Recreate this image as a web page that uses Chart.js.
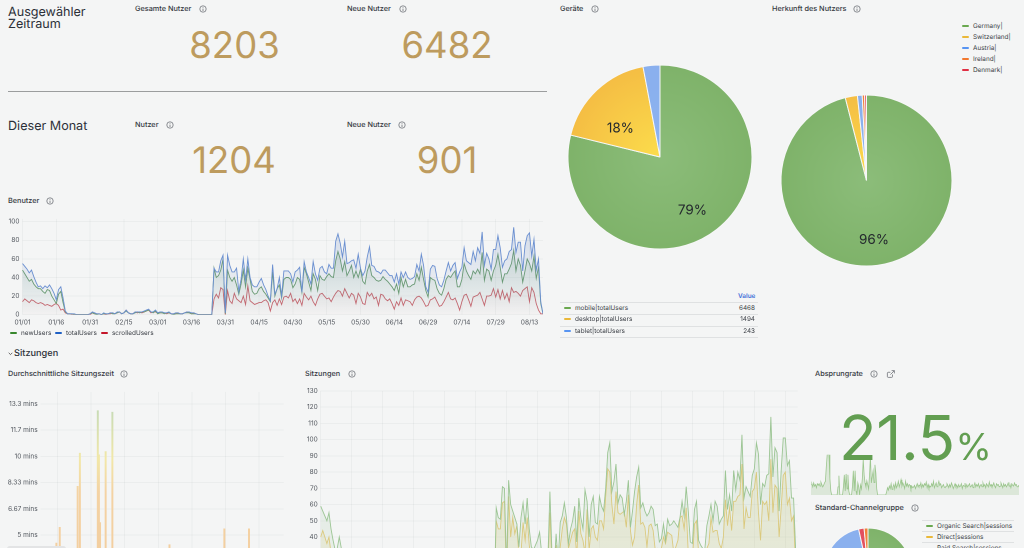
<!DOCTYPE html>
<html><head><meta charset="utf-8"><title>Dashboard</title>
<script src="https://cdn.jsdelivr.net/npm/chart.js@4"></script>
<style>
html,body{margin:0;padding:0;width:1024px;height:548px;overflow:hidden;background:#f4f5f5;font-family:Inter,"Noto Sans",sans-serif;color:#2c3038;text-rendering:geometricPrecision}
canvas{position:absolute}
.t{position:absolute;white-space:nowrap;line-height:1}
.title{font-size:7.3px;font-weight:500;color:#33373e;transform:translateY(-50%)}
.big{font-size:36.5px;color:#bd9b5e;transform:translate(-50%,-50%)}
.head{font-size:12.6px;color:#2c3038}
.sw{position:absolute;width:7px;height:2px;border-radius:1px}
.lab{font-size:6.4px;color:#3a3e45;transform:translateY(-50%)}
.hr{position:absolute;height:1px;background:#dfe1e2}
svg{position:absolute;overflow:visible}
</style></head><body>
<canvas id="usersC"></canvas>
<canvas id="timeC"></canvas>
<canvas id="sessC"></canvas>
<canvas id="bounceC"></canvas>
<canvas id="devC"></canvas>
<canvas id="geoC"></canvas>
<canvas id="chanC"></canvas>
<script>
const totalUsers=[55,52,49,45,48,41,35,30,31,28,
31,29,32,28,23,16,27,30,18,4,
1,1,1,1,0,0,0,0,0,0,
1,3,2,1,1,0,2,1,1,2,
2,1,3,3,1,2,5,2,1,1,
3,3,3,3,4,5,6,3,3,5,
2,3,3,2,2,3,1,1,2,2,
1,1,2,3,3,2,2,1,0,0,
0,0,0,0,0,50,46,46,58,64,
2,64,53,46,46,50,25,38,60,37,
60,40,32,30,30,35,39,32,27,20,
15,54,22,28,40,20,47,47,47,44,
35,46,48,51,24,57,46,40,33,57,
44,37,50,52,46,44,54,50,50,79,
87,77,62,79,55,56,58,59,50,65,
50,42,47,62,73,53,52,47,46,44,
48,48,45,42,42,35,44,33,46,40,
46,40,38,39,41,54,47,65,53,30,
24,49,53,52,39,32,30,37,47,56,
47,53,56,39,46,51,72,58,56,54,
68,58,72,66,89,53,66,60,49,70,
70,85,72,51,58,60,68,70,94,67,
78,78,47,74,85,88,63,81,48,60,
14,1];
const newUsers=[48,44,40,36,38,33,30,28,28,25,
23,27,26,20,16,12,22,25,13,3,
1,1,1,0,0,0,0,0,0,0,
1,2,1,0,1,0,1,1,1,2,
1,1,2,3,1,2,4,2,1,1,
2,3,2,3,3,4,5,3,2,4,
1,2,2,1,2,2,1,0,1,1,
1,1,2,2,2,1,1,1,0,0,
0,0,0,0,0,50,40,42,48,60,
1,48,40,36,40,32,22,33,48,30,
50,38,25,22,23,28,30,25,22,18,
14,46,20,28,32,18,38,40,40,38,
29,33,40,38,24,51,44,35,26,44,
38,26,42,38,37,41,44,41,40,58,
68,60,47,57,42,47,53,40,47,40,
49,36,33,47,54,42,40,37,36,37,
41,38,36,33,30,26,33,23,40,30,
38,30,30,32,33,44,37,51,38,26,
19,40,38,37,28,23,21,28,38,42,
40,44,47,30,30,38,55,47,42,38,
47,44,49,44,67,37,49,47,37,47,
53,65,51,35,44,44,49,55,69,47,
60,53,35,47,60,55,47,63,39,51,
12,1];
const scrolledUsers=[14,17,15,13,16,15,13,12,13,12,
10,11,10,9,11,12,10,5,6,2,
1,1,0,0,0,0,0,0,0,0,
0,2,1,1,1,0,1,0,1,1,
2,1,2,3,1,2,5,2,1,1,
3,2,3,2,3,4,5,2,3,3,
2,2,2,2,1,2,1,1,1,2,
1,1,2,3,2,1,2,1,0,0,
0,0,0,0,0,17,22,18,29,27,
0,26,15,12,23,17,15,13,20,11,
31,15,13,11,12,13,13,15,16,13,
4,13,16,10,17,11,19,20,18,23,
14,17,12,17,10,23,19,16,20,14,
10,17,22,23,20,17,18,14,19,23,
26,25,20,28,23,18,23,21,12,23,
19,12,11,24,20,23,17,19,10,22,
21,17,15,17,12,6,14,10,18,10,
16,15,14,10,16,19,20,18,14,9,
10,16,17,19,14,9,10,14,19,24,
17,16,18,12,5,14,21,22,16,9,
19,20,21,24,17,10,20,20,21,28,
19,27,17,26,17,23,14,29,24,25,
23,20,26,28,30,14,29,24,12,5,
1,1];
const sessionsOrganic=[59,56,53,50,55,45,38,32,33,40,
33,30,27,25,22,15,28,31,18,5,
2,1,1,1,0,0,0,0,0,0,
2,4,2,1,1,1,2,1,2,3,
3,1,4,4,2,3,6,3,1,2,
4,4,4,3,5,6,7,4,3,6,
3,4,4,2,3,4,2,1,2,3,
1,2,3,3,4,3,2,1,0,0,
0,0,0,0,0,58,52,51,71,70,
20,75,60,56,52,48,34,52,61,48,
64,45,34,32,35,38,43,30,20,15,
25,68,30,20,42,25,49,53,61,52,
36,45,50,59,37,64,52,45,69,62,
40,60,65,49,48,65,59,56,70,92,
98,68,74,85,61,66,64,54,62,75,
46,56,68,77,83,58,61,56,53,55,
59,57,47,48,37,39,48,38,51,47,
48,50,48,46,52,62,53,71,56,37,
36,57,62,38,35,33,32,47,53,60,
50,62,59,48,51,53,81,57,66,56,
81,69,80,75,103,64,71,68,65,78,
82,98,91,60,73,71,78,79,114,77,
95,92,56,81,101,101,84,87,64,64,
32,2];
const sessionsDirect=[40,44,40,36,40,30,25,22,22,26,
22,20,18,18,15,10,20,22,12,3,
1,1,0,1,0,0,0,0,0,0,
1,2,1,1,0,0,1,1,1,2,
2,1,2,3,1,2,4,2,1,1,
2,2,3,2,3,4,4,2,2,4,
2,2,3,1,2,2,1,1,1,2,
1,1,2,2,2,1,1,1,0,0,
0,0,0,0,0,50,45,45,61,62,
10,65,40,52,42,47,28,30,49,38,
52,35,25,22,24,28,30,30,15,12,
20,55,22,18,35,18,34,45,52,48,
33,38,43,45,28,56,42,38,30,57,
32,45,47,40,38,50,50,45,65,82,
80,60,48,68,55,54,55,56,46,66,
44,35,40,60,72,48,49,46,34,47,
48,44,32,33,26,33,40,36,43,42,
41,30,34,38,52,53,45,58,30,28,
25,48,50,30,22,20,18,33,36,52,
43,44,44,36,33,40,63,47,58,44,
62,62,65,66,85,45,58,52,52,68,
70,80,55,38,62,60,62,50,88,55,
72,70,40,58,78,80,60,64,50,53,
20,1];
const sessionMinutes=[1.8,2.1,1.6,2.4,1.9,2.2,1.5,2.0,2.6,1.7,
2.3,1.4,2.0,2.8,4.5,1.9,2.2,5.5,1.6,0.8,
0,0,1.2,0,0,0,0,0,0,2.4,
0,1.5,3.0,8.1,0,10.2,0,2.1,0,1.3,
0,3.2,0,0,2.7,1.1,3.4,0,2.0,0,
1.6,12.9,10.1,5.8,0,2.2,0,1.7,10.3,0,
3.1,0,1.4,0,12.8,0,2.3,0,1.0,0,
0,1.9,0,2.5,0,1.2,0,0,0,0,
0,0,0,0,0,1.8,2.0,1.5,2.2,1.9,
0.6,2.4,1.7,2.0,1.6,2.1,1.4,1.9,2.3,1.8,
2.0,1.5,1.7,2.2,1.6,1.9,2.1,1.3,1.8,1.5,
2.4,1.9,1.6,2.0,1.7,4.4,1.8,2.3,1.5,2.0,
1.6,1.9,2.2,1.7,1.4,2.1,1.8,2.5,1.6,1.9,
2.0,1.5,1.8,2.3,1.7,1.6,2.0,1.9,2.2,2.4,
1.8,2.1,1.6,2.3,1.7,1.9,2.0,1.5,2.6,1.8,
1.7,2.2,1.9,1.6,2.1,1.8,2.0,1.4,1.9,2.2,
1.6,2.0,1.8,1.7,5.4,2.1,1.9,1.5,2.3,1.6,
2.0,1.8,1.7,2.2,1.9,1.5,2.1,1.6,2.0,1.8,
2.3,1.7,1.9,1.6,2.2,1.8,5.4,1.9,1.5,2.0,
1.7,2.1,1.8,1.6,2.3,1.9,1.7,2.0,1.8,1.5,
2.2,1.9,1.7,2.0,1.6,2.1,1.8,1.9,2.2,1.6,
2.0,1.7,1.9,2.1,1.8,1.6,2.0,1.5];
const bounceRate=[25,28,20,30,22,26,18,28,24,28,
22,32,26,20,24,30,34,70,100,100,
100,40,10,0,0,0,0,0,0,0,
20,48,0,0,0,0,20,50,10,52,
15,50,10,0,0,0,20,60,10,60,
10,0,30,20,0,25,15,40,88,50,
30,20,35,25,15,50,95,30,45,60,
30,75,55,15,0,0,0,0,0,0,
0,0,0,0,8,18,12,22,16,28,
14,20,26,15,30,18,24,34,20,28,
38,22,30,24,16,34,22,28,20,26,
24,14,22,18,20,24,16,22,28,20,
25,22,30,18,26,20,28,24,32,18,
26,16,22,20,28,22,34,18,24,30,
20,26,34,24,28,18,22,26,20,18,
22,28,24,18,26,20,30,24,16,22,
28,20,24,18,26,20,22,28,16,24,
22,30,18,26,20,24,28,20,22,26,
18,24,30,20,26,22,28,18,24,26,
20,30,22,26,18,28,24,20,32,22,
26,20,24,30,22,18,28,24,26,20,
22,30,24,18,28,22,26,20,24,30,
22,26,18,28,24,22,30,24,26,20,
20,25];
const userTicks=[0,20,40,60,80,100];
const sessionTicks=[0,10,20,30,40,50,60,70,80,90,100,110,120,130];
const timeTickValues=[0,5/3,10/3,5,20/3,25/3,10,35/3,40/3];
const timeTickLabels=['0','1.67 mins','3.33 mins','5 mins','6.67 mins','8.33 mins','10 mins','11.7 mins','13.3 mins'];
const deviceLabels=['mobile|totalUsers','desktop|totalUsers','tablet|totalUsers'];
const deviceValues=[6468,1494,243];
const geoLabels=['Germany|','Switzerland|','Austria|','Ireland|','Denmark|'];
const geoValues=[96,2.3,0.9,0.45,0.35];
const channelLabels=['Organic Search|sessions','Direct|sessions','Paid Search|sessions'];
const channelValues=[61,20,15,2,1.4];
const legendSeries=['newUsers','totalUsers','scrolledUsers'];
const titles=[['Gesamte Nutzer',135,9,203],['Neue Nutzer',347,9,403],['Geräte',560,9,595],['Herkunft des Nutzers',772,9,857],
['Nutzer',135,124.5,170],['Neue Nutzer',347,124.5,402],['Benutzer',8,201,50],['Durchschnittliche Sitzungszeit',8,373.5,124],
['Sitzungen',305,373.5,352],['Absprungrate',815,373.5,874],['Standard-Channelgruppe',815,507.5,915]];
const bigStats=[['8203',234.5,45],['6482',447,45],['1204',234,160],['901',447,160]];

const INK='#50555c',GRID='rgba(36,41,46,0.04)',FONT='Inter';
const dayLabels=[];
for(let i=0;i<232;i++){const d=new Date(Date.UTC(2024,0,1+i));
 dayLabels.push(String(d.getUTCMonth()+1).padStart(2,'0')+'/'+String(d.getUTCDate()).padStart(2,'0'));}

function addText(cls,txt,x,y,extra){const e=document.createElement('div');e.className='t '+cls;e.textContent=txt;
 e.style.left=x+'px';e.style.top=y+'px';if(extra)Object.assign(e.style,extra);document.body.appendChild(e);return e;}
function icon(x,y){const s=document.createElementNS('http://www.w3.org/2000/svg','svg');
 s.setAttribute('width','8');s.setAttribute('height','8');s.style.left=(x-4)+'px';s.style.top=(y-4)+'px';
 s.innerHTML='<circle cx="4" cy="4" r="3.2" fill="none" stroke="#5d6269" stroke-width=".7"/><path d="M4 3.6V6M4 2.2v.7" stroke="#5d6269" stroke-width=".7"/>';
 document.body.appendChild(s);}
function swatch(x,y,c,w){const e=document.createElement('div');e.className='sw';e.style.cssText+=`left:${x}px;top:${y-1}px;background:${c};`;if(w)e.style.width=w+'px';document.body.appendChild(e);}
function hr(x,y,w,c,h){const e=document.createElement('div');e.className='hr';e.style.cssText+=`left:${x}px;top:${y}px;width:${w}px;`+(c?`background:${c};`:'')+(h?`height:${h}px;`:'');document.body.appendChild(e);}

titles.forEach(t=>{addText('title',t[0],t[1],t[2]);icon(t[3],t[2]);});
bigStats.forEach(b=>addText('big',b[0],b[1],b[2]));
addText('head','Ausgewähler',8,7);addText('head','Zeitraum',8,18.8);addText('head','Dieser Monat',8,121.3);
hr(8,90.5,539,'#9b9d9e',1);
addText('title','Sitzungen',14,353.5,{fontSize:'9.2px',color:'#2c3038'});
const chev=document.createElementNS('http://www.w3.org/2000/svg','svg');chev.setAttribute('width','5');chev.setAttribute('height','4');
chev.style.left='8px';chev.style.top='352px';chev.innerHTML='<path d="M.7 .8 2.5 2.6 4.3 .8" fill="none" stroke="#444" stroke-width=".8"/>';document.body.appendChild(chev);
[[10,21,'#37872d'],[55,66,'#1f60c4'],[101,112,'#c4162a']].forEach((p,i)=>{swatch(p[0],332.5,p[2]);addText('lab',legendSeries[i],p[1],332.5);});
addText('lab','Value',738,296,{color:'#3f6fd8',fontWeight:'600',width:'17px',textAlign:'right'});
[302,314,325.5,337].forEach(y=>hr(560,y,198));
const devCols=['#6aa84f','#eab839','#5794f2'];
deviceLabels.forEach((l,i)=>{const y=307.8+i*11.6;swatch(564,y,devCols[i]);addText('lab',l,575,y);
 addText('lab',String(deviceValues[i]),725,y,{width:'30px',textAlign:'right'});});
const geoCols=['#6aa84f','#eab839','#5794f2','#f2782e','#e02f44'];
geoLabels.forEach((l,i)=>{const y=26+i*11;swatch(962,y,geoCols[i]);addText('lab',l,973,y);});
[520,531,542].forEach(y=>hr(922,y,92));
channelLabels.forEach((l,i)=>{const y=525.7+i*11.2;if(i<2)swatch(926,y,geoCols[i]);addText('lab',l,937,y);});
const edge=document.createElement('div');edge.style.cssText='position:absolute;left:7px;top:546px;width:59px;height:6px;background:#e3e4e5;border-radius:3px';document.body.appendChild(edge);
const ext=document.createElementNS('http://www.w3.org/2000/svg','svg');ext.setAttribute('width','8');ext.setAttribute('height','8');ext.style.left='886.5px';ext.style.top='369.5px';
ext.innerHTML='<path d="M5.5 4.5V6.6a.8.8 0 0 1-.8.8H1.2a.8.8 0 0 1-.8-.8V3.1a.8.8 0 0 1 .8-.8H3.4M4.6 .6H7.4V3.4M7.2 .8 3.4 4.6" fill="none" stroke="#5d6269" stroke-width=".7"/>';document.body.appendChild(ext);

function size(c,l,t,w,h){c.width=w;c.height=h;c.style.left=l+'px';c.style.top=t+'px';c.style.width=w+'px';c.style.height=h+'px';}
function vGrad(ctx,area,stops){if(!area)return stops[0][1];const g=ctx.createLinearGradient(0,area.top,0,area.bottom);stops.forEach(s=>g.addColorStop(s[0],s[1]));return g;}
function axes(cfg){return {
 x:{type:'category',offset:false,border:{display:false},grid:{color:GRID,drawTicks:false,lineWidth:1},
    ticks:{autoSkip:false,maxRotation:0,minRotation:0,padding:4,color:INK,font:{family:FONT,size:6.6},callback:v=>dayLabels[v]},
    afterBuildTicks(s){s.ticks=s.ticks.filter(t=>t.value%cfg.every===0);},afterFit(s){s.height=cfg.xh;}},
 y:{min:0,max:cfg.max,border:{display:false},grid:{color:GRID,drawTicks:false},
    afterBuildTicks(s){s.ticks=cfg.tickValues.map(value=>({value}));},
    ticks:Object.assign({autoSkip:false,padding:3,color:INK,font:{family:FONT,size:6.5}},cfg.cb?{callback:cfg.cb}:{}),
    afterFit(s){s.width=cfg.yw;}}
};}
const base=(cfg)=>({responsive:false,animation:false,devicePixelRatio:2,layout:{padding:{top:cfg.pad,left:0,right:0,bottom:0}},
 plugins:{legend:{display:false},tooltip:{enabled:false}},scales:axes(cfg),elements:{point:{radius:0}}});
function ds(label,data,line,fill0,fill1){return {label,data,borderColor:line,borderWidth:.9,tension:0,pointRadius:0,fill:'origin',
 backgroundColor:c=>vGrad(c.chart.ctx,c.chart.chartArea,[[0.1,fill0],[1,fill1]])};}

const cu=document.getElementById('usersC');size(cu,0,212,543,117);
new Chart(cu,{type:'line',data:{labels:dayLabels,datasets:[
 ds('totalUsers',totalUsers,'#6a8fd0','rgba(90,125,190,.2)','rgba(90,125,190,0)'),
 ds('newUsers',newUsers,'#6b9c6f','rgba(60,125,70,.2)','rgba(60,125,70,0)'),
 ds('scrolledUsers',scrolledUsers,'#c9666f','rgba(190,60,70,.12)','rgba(190,60,70,.01)')]},
 options:base({every:15,xh:14.3,yw:22.5,max:103,tickValues:userTicks,pad:6,cb:v=>String(v)})});

const ct=document.getElementById('timeC');size(ct,0,385,289,243);
new Chart(ct,{type:'bar',data:{labels:dayLabels.slice(0,sessionMinutes.length),datasets:[{label:'Durchschnittliche Sitzungszeit',data:sessionMinutes,barThickness:1.3,
 backgroundColor:c=>vGrad(c.chart.ctx,c.chart.chartArea,[[0,'#c2d8ae'],[0.09,'#c9dcb6'],[0.3,'#f2e8a8'],[0.45,'#f4d3a4'],[1,'#f3cb9c']])}]},
 options:base({every:30,xh:14,yw:40.7,max:14.09,tickValues:timeTickValues,pad:6,cb:(v,i)=>timeTickLabels[i]})});

const cs=document.getElementById('sessC');size(cs,300,384,498.2,232);
new Chart(cs,{type:'line',data:{labels:dayLabels,datasets:[
 ds('Organic',sessionsOrganic,'#9cc594','rgba(120,175,120,.13)','rgba(120,175,120,.09)'),
 ds('Direct',sessionsDirect,'#e6cc7e','rgba(232,205,110,.17)','rgba(232,205,110,.13)')]},
 options:base({every:15,xh:14,yw:20.7,max:130,tickValues:sessionTicks,pad:5.7,cb:v=>String(v)})});

const cb=document.getElementById('bounceC');size(cb,810.5,450,208,44.5);
new Chart(cb,{type:'line',data:{labels:dayLabels,datasets:[{data:bounceRate,borderColor:'#9cc68e',borderWidth:.8,pointRadius:0,tension:0,fill:'origin',backgroundColor:'rgba(110,170,95,.18)'}]},
 options:{responsive:false,animation:false,devicePixelRatio:2,layout:{padding:{top:4.5}},plugins:{legend:{display:false},tooltip:{enabled:false}},
  scales:{x:{display:false},y:{display:false,min:0,max:100}}}});
addText('','21.5',839,437.5,{fontSize:'62px',color:'#629e51',transform:'translateY(-50%)',letterSpacing:'-.5px'});
addText('','%',955.5,446,{fontSize:'37px',color:'#629e51',transform:'translateY(-50%)'});

const labelPlugin={id:'pieLabels',afterDatasetsDraw(ch,args,o){if(!o.items)return;const m=ch.getDatasetMeta(0).data,c=ch.ctx,tot=ch.data.datasets[0].data.reduce((a,b)=>a+b,0);
 c.save();c.font='13.5px '+FONT;c.fillStyle='#24292e';c.textAlign='center';c.textBaseline='middle';
 o.items.forEach(it=>{const a=m[it.i],mid=(a.startAngle+a.endAngle)/2+it.shift,r=a.outerRadius*it.r;
  c.fillText(Math.round(ch.data.datasets[0].data[it.i]/tot*100)+'%',a.x+Math.cos(mid)*r,a.y+Math.sin(mid)*r);});c.restore();}};
Chart.register(labelPlugin);
const sliceCols=[['#8cbd7a','#7fb36a'],['#fcdd4c','#f5be44'],['#8cb3f0','#8ab0ee'],['#f28d3f','#f2803a'],['#e65a68','#e24f5e']];
function pie(id,l,t,R,vals,cols,items){const S=2*R+8,c=document.getElementById(id);size(c,l-S/2,t-S/2,S,S);
 new Chart(c,{type:'pie',data:{labels:vals.map((_,i)=>String(i)),datasets:[{data:vals,borderColor:'#f6f7f7',borderWidth:1,
  backgroundColor:x=>{const col=cols[x.dataIndex],g=x.chart.ctx.createRadialGradient(S/2,S/2,0,S/2,S/2,R);g.addColorStop(0,col[0]);g.addColorStop(1,col[1]);return g;}}]},
  options:{responsive:false,animation:false,devicePixelRatio:2,radius:R,layout:{padding:0},plugins:{legend:{display:false},tooltip:{enabled:false},pieLabels:{items}}}});}
pie('devC',659.5,156.5,92,deviceValues,[sliceCols[0],sliceCols[1],sliceCols[2]],[{i:0,r:.68,shift:.12},{i:1,r:.53,shift:-.19}]);
pie('geoC',866,180,85.5,geoValues,sliceCols,[{i:0,r:.7,shift:0}]);
pie('chanC',868,572,44,channelValues,[sliceCols[0],sliceCols[1],sliceCols[2],sliceCols[4],sliceCols[3]],[]);
</script></body></html>
